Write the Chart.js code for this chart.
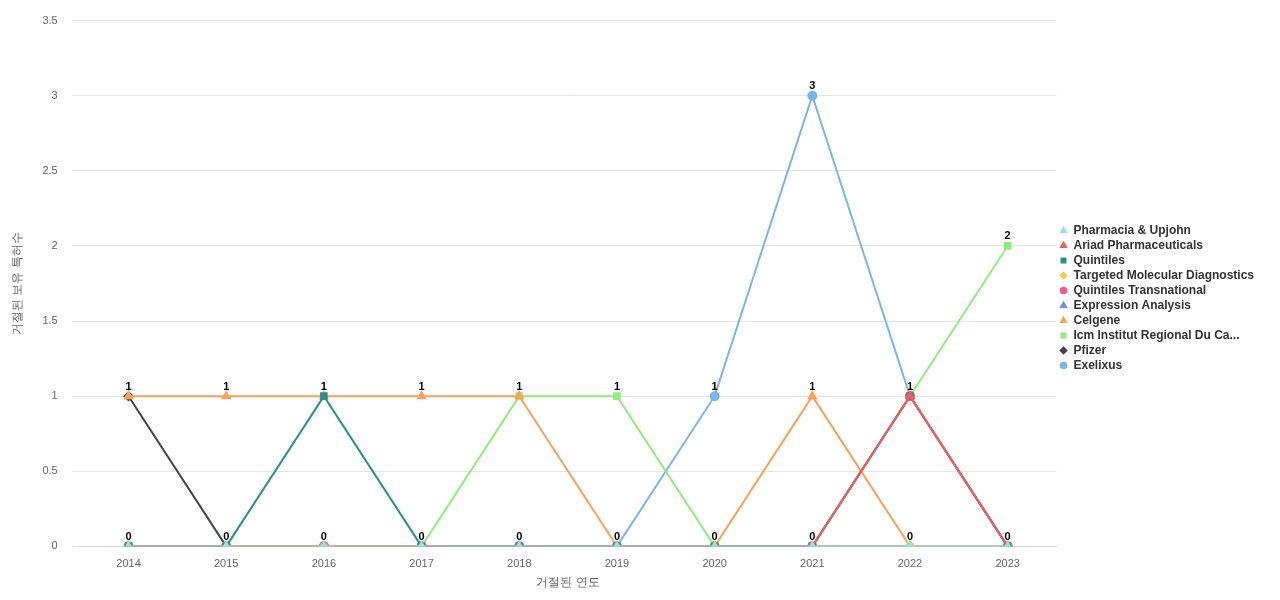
<!DOCTYPE html>
<html><head><meta charset="utf-8">
<script src="https://cdn.jsdelivr.net/npm/chart.js@4"></script>
<style>body{margin:0;background:#fff}#wrap{width:1280px;height:600px}</style>
</head><body><div id="wrap"><canvas id="c"></canvas></div>
<script>
const years = ['2014','2015','2016','2017','2018','2019','2020','2021','2022','2023'];
const exelixus  = [0,0,0,0,0,0,1,3,1,0];
const pfizer    = [1,0,0,0,0,0,0,0,0,0];
const icm       = [0,0,0,0,1,1,0,0,1,2];
const celgene   = [1,1,1,1,1,0,0,1,0,0];
const expression= [0,0,0,0,0,0,0,0,0,0];
const qTrans    = [0,0,0,0,0,0,0,0,1,0];
const targeted  = [0,0,0,0,0,0,0,0,0,0];
const quintiles = [0,0,1,0,0,0,0,0,1,0];
const ariad     = [0,0,0,0,0,0,0,0,1,0];
const pharmacia = [0,0,0,0,0,0,0,0,0,0];

const series = [
  ['Exelixus', exelixus, '#7cb5ec', 'circle'],
  ['Pfizer', pfizer, '#434348', 'rectRot'],
  ['Icm Institut Regional Du Ca...', icm, '#90ed7d', 'rect'],
  ['Celgene', celgene, '#f7a35c', 'triangle'],
  ['Expression Analysis', expression, '#8085e9', 'triangle'],
  ['Quintiles Transnational', qTrans, '#f15c80', 'circle'],
  ['Targeted Molecular Diagnostics', targeted, '#e4d354', 'rectRot'],
  ['Quintiles', quintiles, '#2b908f', 'rect'],
  ['Ariad Pharmaceuticals', ariad, '#f45b5b', 'triangle'],
  ['Pharmacia & Upjohn', pharmacia, '#91e8e1', 'triangle']
];

const FONT = '"Liberation Sans", Arial, sans-serif';

const labelPlugin = {
  id: 'vals',
  afterDatasetsDraw(chart) {
    const ctx = chart.ctx, x = chart.scales.x, y = chart.scales.y;
    ctx.save();
    ctx.font = 'bold 11px ' + FONT;
    ctx.fillStyle = '#000'; ctx.textAlign = 'center'; ctx.textBaseline = 'bottom';
    years.forEach((yr, i) => {
      const vals = [...new Set(series.map(s => s[1][i]))];
      vals.forEach(v => ctx.fillText(String(v), x.getPixelForValue(i), y.getPixelForValue(v) - 4));
    });
    ctx.restore();
  }
};

new Chart(document.getElementById('c'), {
  type: 'line',
  data: {
    labels: years,
    datasets: series.map(([name, data, color, shape], i) => ({
      label: name, data, borderColor: color, backgroundColor: color,
      pointStyle: shape, pointRadius: 4, borderWidth: 2, tension: 0, order: series.length - i
    }))
  },
  options: {
    responsive: true, maintainAspectRatio: false, animation: false,
    layout: { padding: { top: 4, right: 16, bottom: 8, left: 6 } },
    plugins: {
      legend: { position: 'right', labels: { usePointStyle: true, boxWidth: 8, boxHeight: 4,
        color: '#333', font: { family: FONT, size: 12, weight: 'bold' }, padding: 3 } },
      tooltip: { enabled: false }
    },
    scales: {
      x: { offset: true, grid: { display: false }, border: { color: '#ccd6eb' },
           ticks: { color: '#666', font: { family: FONT, size: 11 } },
           title: { display: true, text: '거절된 연도', color: '#666', font: { size: 12 }, padding: 2 } },
      y: { min: 0, max: 3.5, ticks: { stepSize: 0.5, color: '#666', font: { family: FONT, size: 11 }, padding: 14,
             callback: v => String(v) },
           grid: { color: '#e6e6e6' }, border: { display: false },
           title: { display: true, text: '거절된 보유 특허수', color: '#666', font: { size: 12 } } }
    }
  },
  plugins: [labelPlugin]
});
</script></body></html>
